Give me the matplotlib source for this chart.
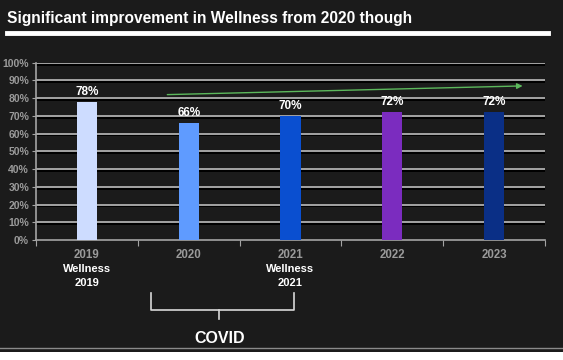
import matplotlib
matplotlib.use("Agg")
import matplotlib.pyplot as plt
import matplotlib.patheffects as pe
from matplotlib.patches import Rectangle
from matplotlib.lines import Line2D

years = ["2019", "2020", "2021", "2022", "2023"]
values = [78, 66, 70, 72, 72]
bar_colors = ["#cddcff", "#5f9bff", "#0a4fd0", "#7b2cbf", "#0a2f86"]
sub_labels = {0: ("Wellness", "2019"), 2: ("Wellness", "2021")}
yticks = list(range(0, 101, 10))
title = "Significant improvement in Wellness from 2020 though"

BG = "#1b1b1b"
GRID = "#a4a4a4"
TXT_GRAY = "#9a9a9a"

plt.rcParams['font.family'] = ['Liberation Sans', 'DejaVu Sans']

fig = plt.figure(figsize=(5.63, 3.6), dpi=100, facecolor=BG)
ax = fig.add_axes([36/563, 1-240/360, (545-36)/563, (240-62.7)/360])
ax.set_facecolor(BG)

x = list(range(len(years)))
ax.set_xlim(-0.5, len(years) - 0.5)
ax.set_ylim(0, 100)

for y in yticks[1:]:
    ax.axhline(y, color=GRID, lw=1.4, zorder=1,
               path_effects=[pe.SimpleLineShadow(offset=(0, -1.3), shadow_color="black", alpha=1.0),
                             pe.Normal()])

bars = ax.bar(x, values, width=0.2, color=bar_colors, zorder=3)
for xi, v in zip(x, values):
    ax.annotate(f"{v}%", (xi, v), xytext=(0, 3), textcoords="offset points",
                ha="center", va="bottom", color="white", fontsize=8.5, fontweight="bold",
                zorder=4)

for s in ["top", "right"]:
    ax.spines[s].set_visible(False)
ax.spines["left"].set_color(GRID)
ax.spines["bottom"].set_color(GRID)
ax.spines["left"].set_linewidth(1.2)
ax.spines["bottom"].set_linewidth(1.2)

ax.set_yticks(yticks)
ax.set_yticklabels([f"{t}%" for t in yticks], color=TXT_GRAY, fontsize=7.5, fontweight="bold")
ax.tick_params(axis="y", length=3, color=GRID, pad=2)

ax.set_xticks([i - 0.5 for i in range(len(years) + 1)], minor=False)
ax.set_xticklabels([])
ax.set_xticks(x, minor=True)
ax.set_xticklabels(years, minor=True, color=TXT_GRAY, fontsize=8.3, fontweight="bold")
ax.tick_params(axis="x", which="major", length=4, color=GRID, direction="out")
ax.tick_params(axis="x", which="minor", length=0, pad=6.5)

for i, (l1, l2) in sub_labels.items():
    ax.text(i, -16.4, l1, ha="center", va="center", color="white", fontsize=8,
            fontweight="bold", clip_on=False)
    ax.text(i, -24.3, l2, ha="center", va="center", color="white", fontsize=8,
            fontweight="bold", clip_on=False)

# trend arrow
ax.annotate("", xy=(4.28, 86.9), xytext=(0.79, 82.0),
            arrowprops=dict(arrowstyle="-|>", color="#5cb85c", lw=1.0,
                            mutation_scale=8, shrinkA=0, shrinkB=0), zorder=5)

# COVID brace
bx0, bx1, bxm = 0.63, 2.03, 1.30
ytop, ymid, ytip = -29.9, -39.5, -44.5
brace_col = "#d8d8d8"
ax.plot([bx0, bx0, bx1, bx1], [ytop, ymid, ymid, ytop], color=brace_col, lw=1.2,
        clip_on=False, solid_joinstyle="round")
ax.plot([bxm, bxm], [ymid, ytip], color=brace_col, lw=1.2, clip_on=False)
ax.text(bxm, -55.5, "COVID", ha="center", va="center", color="white", fontsize=11.5,
        fontweight="bold", clip_on=False)

# title and underline
fig.text(7/563, 1-18/360, title, ha="left", va="center", color="white",
         fontsize=11.2, fontweight="bold")
fig.add_artist(Line2D([7/563, 548/563], [1-33/360, 1-33/360], color="white", lw=3.5))

# bottom band
fig.add_artist(Rectangle((0, 0), 1, 8.5/360, transform=fig.transFigure,
                         facecolor="white", edgecolor="none"))
fig.add_artist(Line2D([0, 1], [1-348/360, 1-348/360], color="#8a8a8a", lw=1.0))

fig.savefig("out.png", dpi=100, facecolor=BG)
